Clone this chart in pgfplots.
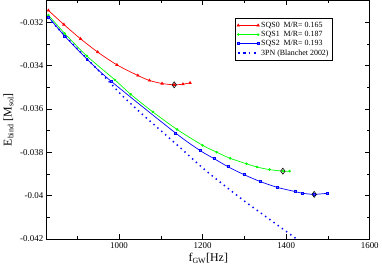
\documentclass[border=0pt]{standalone}
\usepackage{fontspec}
\setmainfont{Liberation Serif}
\usepackage{pgfplots}
\pgfplotsset{compat=1.18}
\begin{document}
\begin{tikzpicture}
\begin{axis}[
  scale only axis, width=325bp, height=240bp,
  xmin=827, xmax=1600, ymin=-0.042, ymax=-0.031,
  xtick={1000,1200,1400,1600}, minor xtick={900,1100,1300,1500},
  ytick={-0.042,-0.040,-0.038,-0.036,-0.034,-0.032},
  yticklabels={-0.042,-0.04,-0.038,-0.036,-0.034,-0.032},
  minor ytick={-0.041,-0.039,-0.037,-0.035,-0.033,-0.031},
  scaled y ticks=false,
  tick align=inside, major tick length=5bp, minor tick length=2.8bp,
  axis line style={line width=0.9bp},
  every tick/.style={black, line width=0.6bp},
  ticklabel style={font=\fontsize{9}{10}\selectfont},
  /pgf/number format/assume math mode=true,
  /pgf/number format/1000 sep={},
  xlabel={f\textsubscript{GW}[Hz]},
  ylabel={E\textsubscript{bind} [M\textsubscript{sol}]},
  label style={font=\fontsize{12}{13}\selectfont},
  xlabel style={yshift=2bp},
  legend style={at={(0.582,0.928)}, anchor=north west, draw=black, line width=0.8bp,
    font=\fontsize{8}{9}\selectfont, row sep=-1.5bp, inner sep=2bp},
  legend cell align=left,
  legend image code/.code={\draw[#1] plot coordinates {(0bp,0bp) (20bp,0bp)};},
]
\addplot[red, line width=0.7bp, mark=triangle*, mark size=1.3bp, smooth] coordinates {
(831,-0.03146) (868,-0.03211) (908,-0.03277) (949,-0.03338) (995,-0.03397)
(1045,-0.03446) (1073,-0.03469) (1103,-0.03483) (1132,-0.03489) (1153,-0.03486) (1170,-0.03480)};
\addlegendentry{SQS0\ \ M/R= 0.165}
\addplot[green, line width=0.7bp, mark=*, mark size=0.9bp, smooth] coordinates {
(831,-0.03168) (870,-0.03252) (923,-0.03356) (990,-0.03466) (1028,-0.03533) (1081,-0.03614)
(1139,-0.03695) (1200,-0.03768) (1234,-0.03800) (1266,-0.03828) (1305,-0.03853)
(1330,-0.03868) (1360,-0.03880) (1392,-0.03887) (1408,-0.03887)};
\addlegendentry{SQS1\ \ M/R= 0.187}
\addplot[blue, line width=0.7bp, mark=square*, mark size=1bp, mark options={fill=blue!60}, smooth] coordinates {
(831,-0.03176) (870,-0.03264) (923,-0.03370) (982,-0.03474)
(1135,-0.03711) (1194,-0.03792) (1228,-0.03830) (1261,-0.03867) (1300,-0.03904)
(1338,-0.03935) (1379,-0.03962) (1421,-0.03981) (1439,-0.03989) (1467,-0.03994) (1499,-0.03989)};
\addlegendentry{SQS2\ \ M/R= 0.193}
\addplot[blue, line width=1.5bp, dash pattern=on 1.4bp off 3.8bp, smooth] coordinates {
(830,-0.03180) (880,-0.03282) (930,-0.03382) (980,-0.03482) (1004,-0.03532) (1050,-0.03615)
(1100,-0.03700) (1150,-0.03785) (1200,-0.03872) (1250,-0.03950) (1300,-0.04025)
(1350,-0.04095) (1400,-0.04165) (1432,-0.04210)};
\addlegendentry{3PN (Blanchet 2002)}
\addplot[only marks, black, mark=diamond, mark size=3bp, line width=0.6bp, forget plot] coordinates {
(1132,-0.03489) (1392,-0.03887) (1467,-0.03994)};
\end{axis}
\end{tikzpicture}
\end{document}
